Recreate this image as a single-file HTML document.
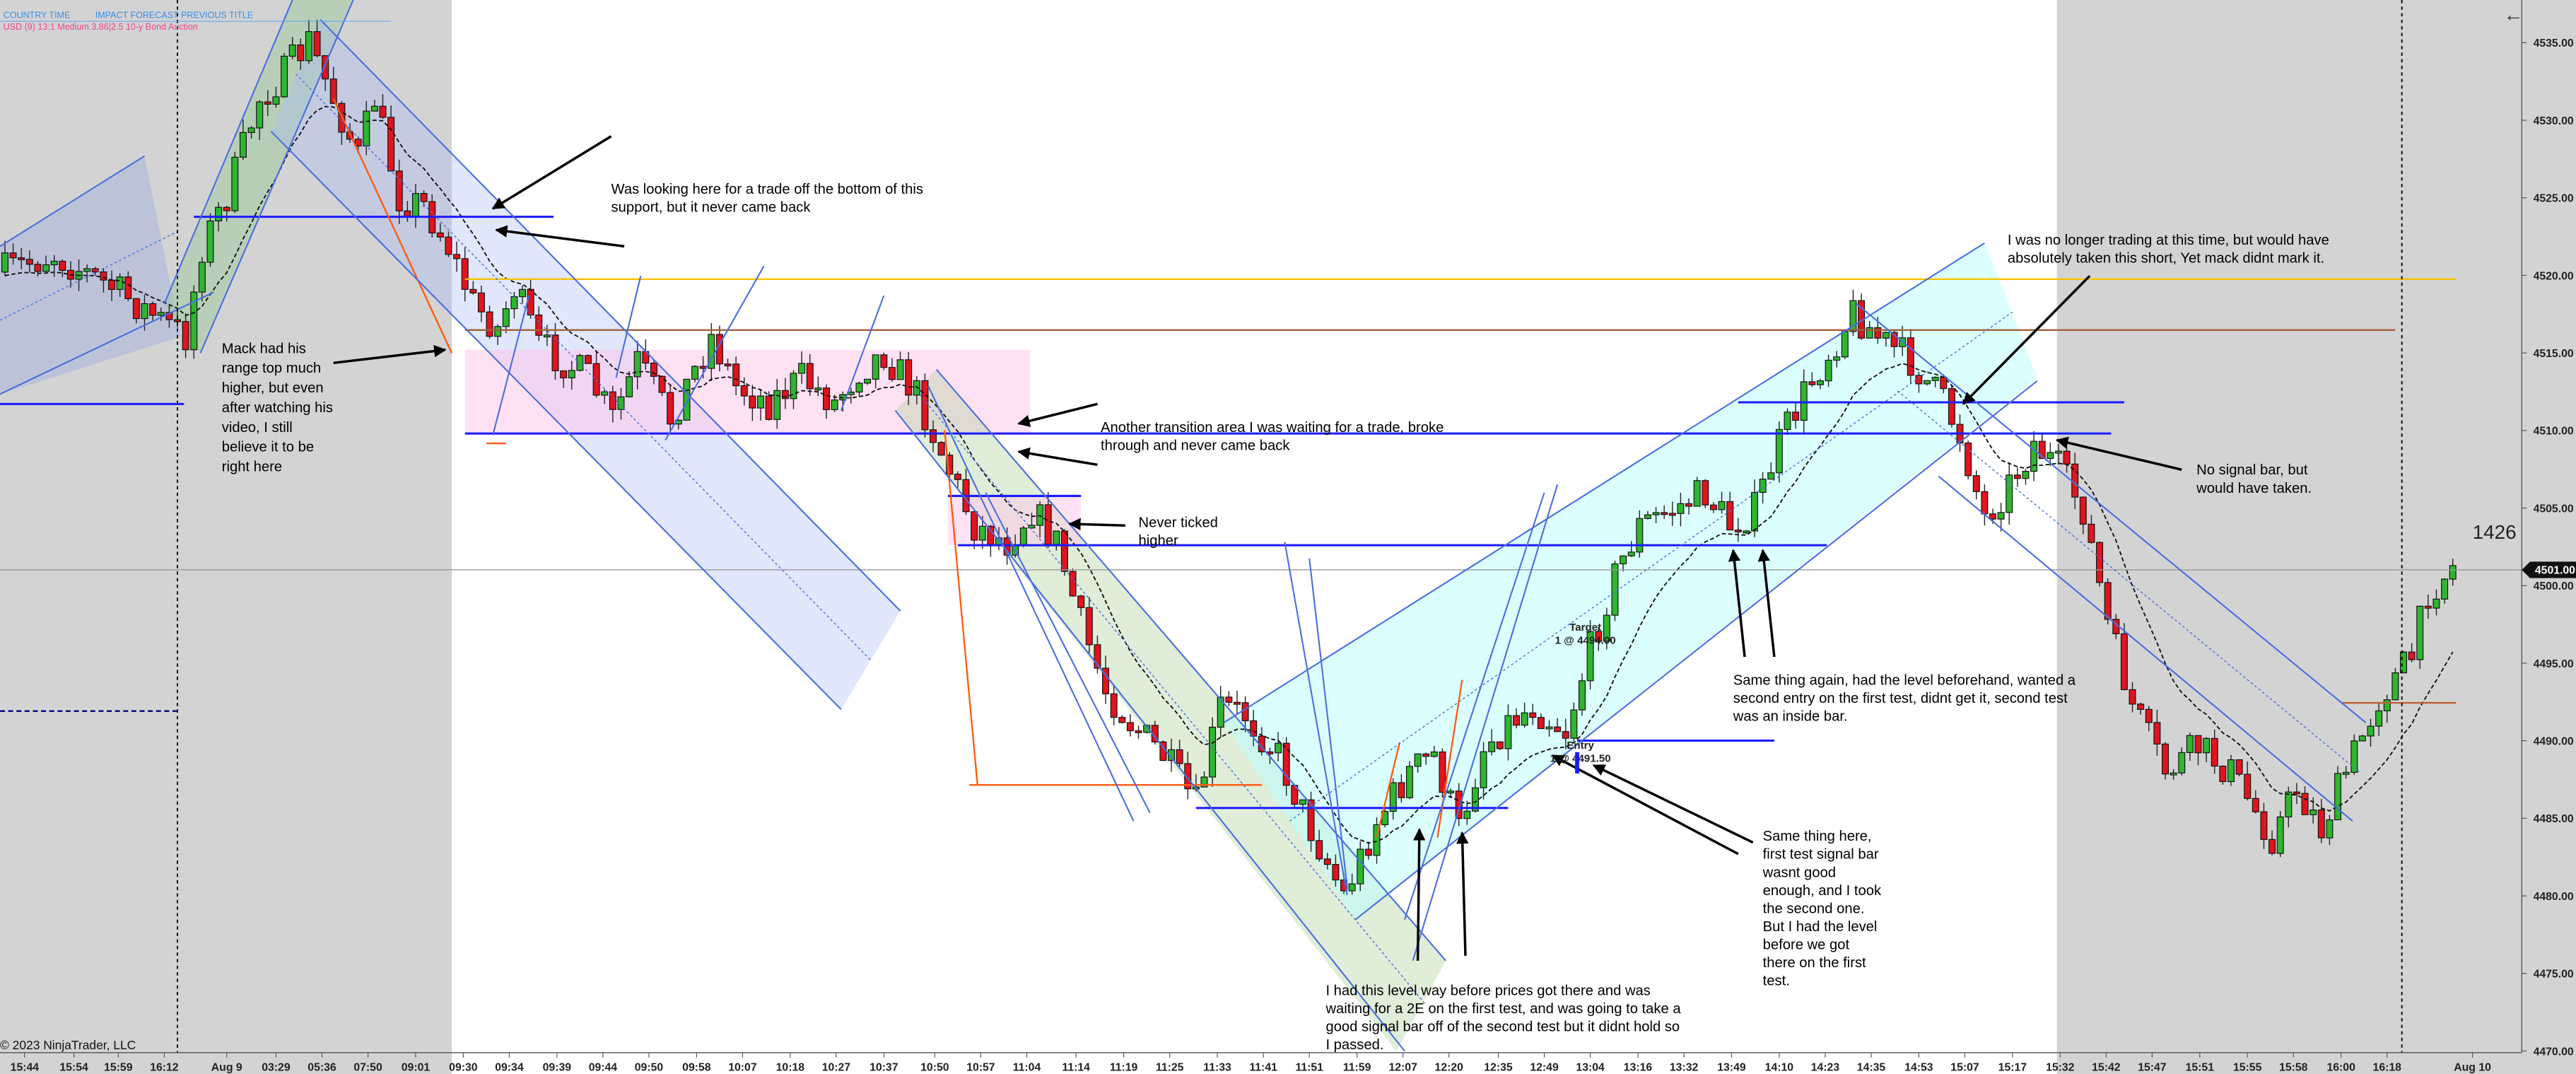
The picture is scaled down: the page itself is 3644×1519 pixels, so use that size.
<!DOCTYPE html>
<html><head><meta charset="utf-8"><style>
html,body{margin:0;padding:0;background:#fff;}
svg{display:block;}
text{font-family:"Liberation Sans",sans-serif;}
</style></head><body>
<svg id="s" width="3644" height="1519" viewBox="0 0 1568 654" preserveAspectRatio="none" xmlns="http://www.w3.org/2000/svg">
<rect x="0" y="0" width="1568" height="654" fill="#fff"/>
<rect x="0" y="0" width="275" height="654" fill="#d3d3d3"/>
<rect x="1252" y="0" width="316" height="654" fill="#d3d3d3"/>
<polygon points="0,150 88,95 110,205 0,240" fill="rgba(160,175,225,0.45)"/>
<polygon points="100,185 178,0 215,0 122,215" fill="rgba(150,200,150,0.45)"/>
<polygon points="195,12 548,372 512,432 165,80" fill="rgba(170,185,245,0.35)"/>
<polygon points="283,213 627,213 627,265 283,265" fill="rgba(255,200,235,0.55)"/>
<polygon points="545,250 570,225 880,585 850,640" fill="rgba(175,210,160,0.4)"/>
<polygon points="577,302 658,302 658,332 577,332" fill="rgba(255,200,235,0.5)"/>
<polygon points="745,440 1208,148 1240,230 825,560" fill="rgba(190,255,255,0.55)"/>
<g id="g"></g>
<line x1="0" y1="347" x2="1535" y2="347" stroke="#999" stroke-width="0.6"/>
<line x1="283" y1="170" x2="1495" y2="170" stroke="#f5c400" stroke-width="1"/>
<line x1="283" y1="201" x2="1458" y2="201" stroke="#a0603a" stroke-width="1"/>
<g stroke="#1a1aff" stroke-width="1.3">
<line x1="118" y1="132" x2="337" y2="132"/>
<line x1="0" y1="246" x2="112" y2="246"/>
<line x1="283" y1="264" x2="1285" y2="264"/>
<line x1="577" y1="302" x2="658" y2="302"/>
<line x1="583" y1="332" x2="1112" y2="332"/>
<line x1="1058" y1="245" x2="1293" y2="245"/>
<line x1="960" y1="451" x2="1080" y2="451"/>
<line x1="728" y1="492" x2="918" y2="492"/>
</g>
<line x1="0" y1="433" x2="108" y2="433" stroke="#000080" stroke-width="1" stroke-dasharray="3,2"/>
<g stroke="#ff5a10" stroke-width="1">
<line x1="590" y1="478" x2="768" y2="478"/>
<line x1="203" y1="60" x2="275" y2="215"/>
<line x1="575" y1="262" x2="595" y2="478"/>
<line x1="1425" y1="428" x2="1495" y2="428" stroke="#c06030"/>
<line x1="838" y1="510" x2="852" y2="452"/>
<line x1="875" y1="510" x2="890" y2="414"/>
<line x1="296" y1="270" x2="308" y2="270"/>
</g>
<g stroke="#4a6ee0" stroke-width="0.9" fill="none">
<line x1="0" y1="150" x2="88" y2="95"/><line x1="0" y1="240" x2="130" y2="178"/>
<line x1="100" y1="185" x2="178" y2="0"/><line x1="122" y1="215" x2="215" y2="0"/>
<line x1="195" y1="12" x2="548" y2="372"/><line x1="165" y1="80" x2="512" y2="432"/>
<line x1="570" y1="225" x2="880" y2="585"/><line x1="545" y1="250" x2="855" y2="640"/>
<line x1="565" y1="235" x2="690" y2="500"/><line x1="600" y1="300" x2="700" y2="495"/>
<line x1="745" y1="440" x2="1208" y2="148"/><line x1="825" y1="560" x2="1240" y2="232"/>
<line x1="1130" y1="185" x2="1440" y2="440"/><line x1="1180" y1="290" x2="1432" y2="500"/>
<line x1="820" y1="545" x2="782" y2="330"/><line x1="820" y1="540" x2="797" y2="340"/>
<line x1="860" y1="585" x2="948" y2="295"/><line x1="855" y1="560" x2="940" y2="300"/>
<line x1="300" y1="265" x2="322" y2="180"/><line x1="405" y1="268" x2="465" y2="162"/>
<line x1="512" y1="250" x2="538" y2="180"/><line x1="375" y1="230" x2="390" y2="168"/>
</g>
<g stroke="#4a6ee0" stroke-width="0.6" stroke-dasharray="1.5,1.5" fill="none">
<line x1="0" y1="195" x2="110" y2="140"/><line x1="180" y1="45" x2="530" y2="402"/>
<line x1="558" y1="238" x2="868" y2="612"/><line x1="785" y1="500" x2="1225" y2="190"/>
<line x1="1155" y1="238" x2="1436" y2="470"/>
</g>
<line x1="108" y1="0" x2="108" y2="641" stroke="#000" stroke-width="0.8" stroke-dasharray="2,2"/>
<line x1="1462" y1="0" x2="1462" y2="641" stroke="#000" stroke-width="0.8" stroke-dasharray="2,2"/>
<defs><marker id="a" viewBox="0 0 10 10" refX="9" refY="5" markerWidth="5" markerHeight="5" orient="auto"><path d="M0,0L10,5L0,10z" fill="#000"/></marker></defs>
<g stroke="#000" stroke-width="1.5" marker-end="url(#a)">
<line x1="372" y1="83" x2="300" y2="127"/><line x1="380" y1="150" x2="302" y2="140"/>
<line x1="203" y1="221" x2="271" y2="213"/><line x1="668" y1="246" x2="620" y2="258"/>
<line x1="668" y1="283" x2="620" y2="275"/><line x1="685" y1="320" x2="651" y2="319"/>
<line x1="1272" y1="168" x2="1195" y2="246"/><line x1="1328" y1="286" x2="1252" y2="268"/>
<line x1="1062" y1="400" x2="1055" y2="335"/><line x1="1080" y1="400" x2="1073" y2="335"/>
<line x1="1067" y1="513" x2="970" y2="466"/><line x1="1058" y1="520" x2="945" y2="460"/>
<line x1="863" y1="585" x2="864" y2="505"/><line x1="892" y1="582" x2="890" y2="507"/>
</g>
<g font-size="8.7" fill="#000">
<text x="372" y="118">Was looking here for a trade off the bottom of this</text>
<text x="372" y="129">support, but it never came back</text>
<text x="135" y="215">Mack had his</text><text x="135" y="227">range top much</text><text x="135" y="239">higher, but even</text><text x="135" y="251">after watching his</text><text x="135" y="263">video, I still</text><text x="135" y="275">believe it to be</text><text x="135" y="287">right here</text>
<text x="670" y="263">Another transition area I was waiting for a trade, broke</text>
<text x="670" y="274">through and never came back</text>
<text x="693" y="321">Never ticked</text><text x="693" y="332">higher</text>
<text x="1222" y="149">I was no longer trading at this time, but would have</text>
<text x="1222" y="160">absolutely taken this short, Yet mack didnt mark it.</text>
<text x="1337" y="289">No signal bar, but</text><text x="1337" y="300">would have taken.</text>
<text x="1055" y="417">Same thing again, had the level beforehand, wanted a</text>
<text x="1055" y="428">second entry on the first test, didnt get it, second test</text>
<text x="1055" y="439">was an inside bar.</text>
<text x="1073" y="512">Same thing here,</text><text x="1073" y="523">first test signal bar</text><text x="1073" y="534">wasnt good</text><text x="1073" y="545">enough, and I took</text><text x="1073" y="556">the second one.</text><text x="1073" y="567">But I had the level</text><text x="1073" y="578">before we got</text><text x="1073" y="589">there on the first</text><text x="1073" y="600">test.</text>
<text x="807" y="606">I had this level way before prices got there and was</text>
<text x="807" y="617">waiting for a 2E on the first test, and was going to take a</text>
<text x="807" y="628">good signal bar off of the second test but it didnt hold so</text>
<text x="807" y="639">I passed.</text>
</g>
<g font-size="6.5" font-weight="bold" fill="#222" text-anchor="middle">
<text x="965" y="384">Target</text><text x="965" y="392">1 @ 4494.00</text>
<text x="962" y="456">Entry</text><text x="962" y="464">1 @ 4491.50</text>
</g>
<line x1="960" y1="471" x2="960" y2="458" stroke="#1a1aff" stroke-width="2.5"/>
<text x="1505" y="328" font-size="12" fill="#222">1426</text>
<text x="0" y="639" font-size="7.5" fill="#111">© 2023 NinjaTrader, LLC</text>
<text x="1524" y="13" font-size="12" fill="#333">←</text>
<g font-family="Liberation Mono,monospace" font-size="5.4">
<text x="2" y="11" fill="#3a8ee8">COUNTRY TIME</text><text x="58" y="11" fill="#3a8ee8">IMPACT FORECAST PREVIOUS TITLE</text>
<text x="2" y="18" fill="#e8488a">USD   (9) 13:1  Medium     3.86|2.5 10-y Bond Auction</text>
</g>
<line x1="0" y1="13" x2="238" y2="13" stroke="#6aa8f0" stroke-width="0.5"/>
<line x1="1535" y1="0" x2="1535" y2="641" stroke="#555" stroke-width="0.6"/>
<line x1="0" y1="641" x2="1535" y2="641" stroke="#555" stroke-width="0.6"/>
<g id="ax" font-size="6.8" font-weight="bold" fill="#222"></g>
<polygon points="1535,347 1540,342 1568,342 1568,352 1540,352" fill="#111"/>
<text x="1543" y="349.5" font-size="6.8" font-weight="bold" fill="#fff">4501.00</text>
</svg>
<script>
(function(){
var NS="http://www.w3.org/2000/svg";
var g=document.getElementById('g'),ax=document.getElementById('ax');
function el(t,a,p){var e=document.createElementNS(NS,t);for(var k in a)e.setAttribute(k,a[k]);(p||g).appendChild(e);return e;}
var P=[[5,165],[35,155],[70,175],[100,195],[115,205],[125,150],[140,120],[160,60],[175,45],[190,25],[205,60],[220,95],[230,60],[245,120],[260,125],[275,150],[290,185],[305,200],[315,175],[330,210],[345,220],[360,230],[375,255],[390,220],[410,255],[435,205],[450,235],[470,245],[490,230],[510,245],[525,225],[540,215],[560,240],[575,275],[595,320],[615,330],[630,310],[645,330],[660,380],[675,420],[690,440],[710,460],[730,490],[745,430],[760,435],[780,460],[800,505],[820,545],[840,500],[860,470],[875,460],[890,505],[905,455],[920,440],[935,430],[955,445],[970,395],[985,350],[1000,320],[1020,310],[1040,300],[1055,320],[1070,310],[1085,270],[1100,240],[1115,215],[1130,190],[1145,205],[1165,220],[1185,245],[1195,265],[1210,315],[1225,295],[1240,270],[1255,285],[1270,310],[1285,380],[1300,430],[1320,470],[1340,455],[1360,470],[1385,510],[1400,480],[1415,505],[1430,470],[1450,425],[1470,400],[1480,360],[1495,345]];
function f(x){for(var i=0;i<P.length-1;i++){if(x<=P[i+1][0]){var a=P[i],b=P[i+1];return a[1]+(b[1]-a[1])*(x-a[0])/(b[0]-a[0]);}}return P[P.length-1][1];}
var seed=7;function r(){seed=(seed*16807)%2147483647;return seed/2147483647;}
var prev=f(3),ema=prev,pts=[];
for(var x=3;x<=1495;x+=5){
 var c=f(x+2)+(r()-0.5)*22;var o=prev;
 var hi=Math.min(o,c)-r()*8,lo=Math.max(o,c)+r()*8;
 el('line',{x1:x,y1:hi,x2:x,y2:lo,stroke:'#222','stroke-width':0.6});
 var top=Math.min(o,c),h=Math.max(Math.abs(c-o),1.2);
 el('rect',{x:x-1.9,y:top,width:3.8,height:h,fill:(c<o?'#2fb52f':'#e0141e'),stroke:'#111','stroke-width':0.5});
 prev=c;ema=ema+(c-ema)*0.15;pts.push(x+','+(ema+4).toFixed(1));
}
el('polyline',{points:pts.join(' '),fill:'none',stroke:'#111','stroke-width':0.8,'stroke-dasharray':'2.5,1.5'});
var T=[["15:44",15],["15:54",45],["15:59",72],["16:12",100],["Aug 9",138],["03:29",168],["05:36",196],["07:50",224],["09:01",253],["09:30",282],["09:34",310],["09:39",339],["09:44",367],["09:50",395],["09:58",424],["10:07",452],["10:18",481],["10:27",509],["10:37",538],["10:50",569],["10:57",597],["11:04",625],["11:14",655],["11:19",684],["11:25",712],["11:33",741],["11:41",769],["11:51",797],["11:59",826],["12:07",854],["12:20",882],["12:35",912],["12:49",940],["13:04",968],["13:16",997],["13:32",1025],["13:49",1054],["14:10",1083],["14:23",1111],["14:35",1139],["14:53",1168],["15:07",1196],["15:17",1225],["15:32",1254],["15:42",1282],["15:47",1310],["15:51",1339],["15:55",1368],["15:58",1396],["16:00",1425],["16:18",1453],["Aug 10",1505]];
T.forEach(function(t){var e=el('text',{x:t[1],y:652,'text-anchor':'middle'},ax);e.textContent=t[0];el('line',{x1:t[1],y1:641,x2:t[1],y2:644,stroke:'#555','stroke-width':0.5},ax);});
for(var p=4535;p>=4470;p-=5){var y=26+(4535-p)*9.446;var e=el('text',{x:1542,y:y+2.5},ax);e.textContent=p+'.00';el('line',{x1:1535,y1:y,x2:1538,y2:y,stroke:'#555','stroke-width':0.5},ax);}
})();
</script>
</body></html>
